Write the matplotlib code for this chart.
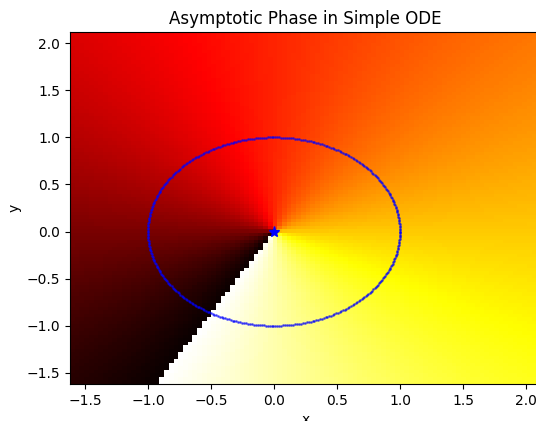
import numpy as np
import matplotlib
matplotlib.use("Agg")
import matplotlib.pyplot as plt

# Grid of initial conditions
x_vals = np.linspace(-1.6, 2.1, 100)
y_vals = np.linspace(-1.6, 2.1, 100)

# Limit cycle (unit circle) samples and fixed point
theta_cycle = np.linspace(0, 2 * np.pi, 400)
fixed_point = [0.0, 0.0]

X, Y = np.meshgrid(x_vals, y_vals)
# asymptotic phase of dr/dt = r(1-r^2), dtheta/dt = const: isochrons are rays
phase = np.mod(4.0 / 3.0 * np.pi - np.arctan2(Y, X), 2 * np.pi)

fig = plt.figure(figsize=(5.36, 4.21), dpi=100)
ax = fig.add_axes([70 / 536, 37 / 421, 471 / 536, 352 / 421])
ax.pcolormesh(X, Y, phase, cmap="hot", shading="nearest")
ax.plot(np.cos(theta_cycle), np.sin(theta_cycle), "b.", markersize=2, alpha=0.55)
ax.plot(fixed_point[0], fixed_point[1], "b*", markersize=8)
ax.set_title("Asymptotic Phase in Simple ODE")
ax.set_xlabel("x")
ax.set_ylabel("y")
fig.savefig("out.png", dpi=100)
